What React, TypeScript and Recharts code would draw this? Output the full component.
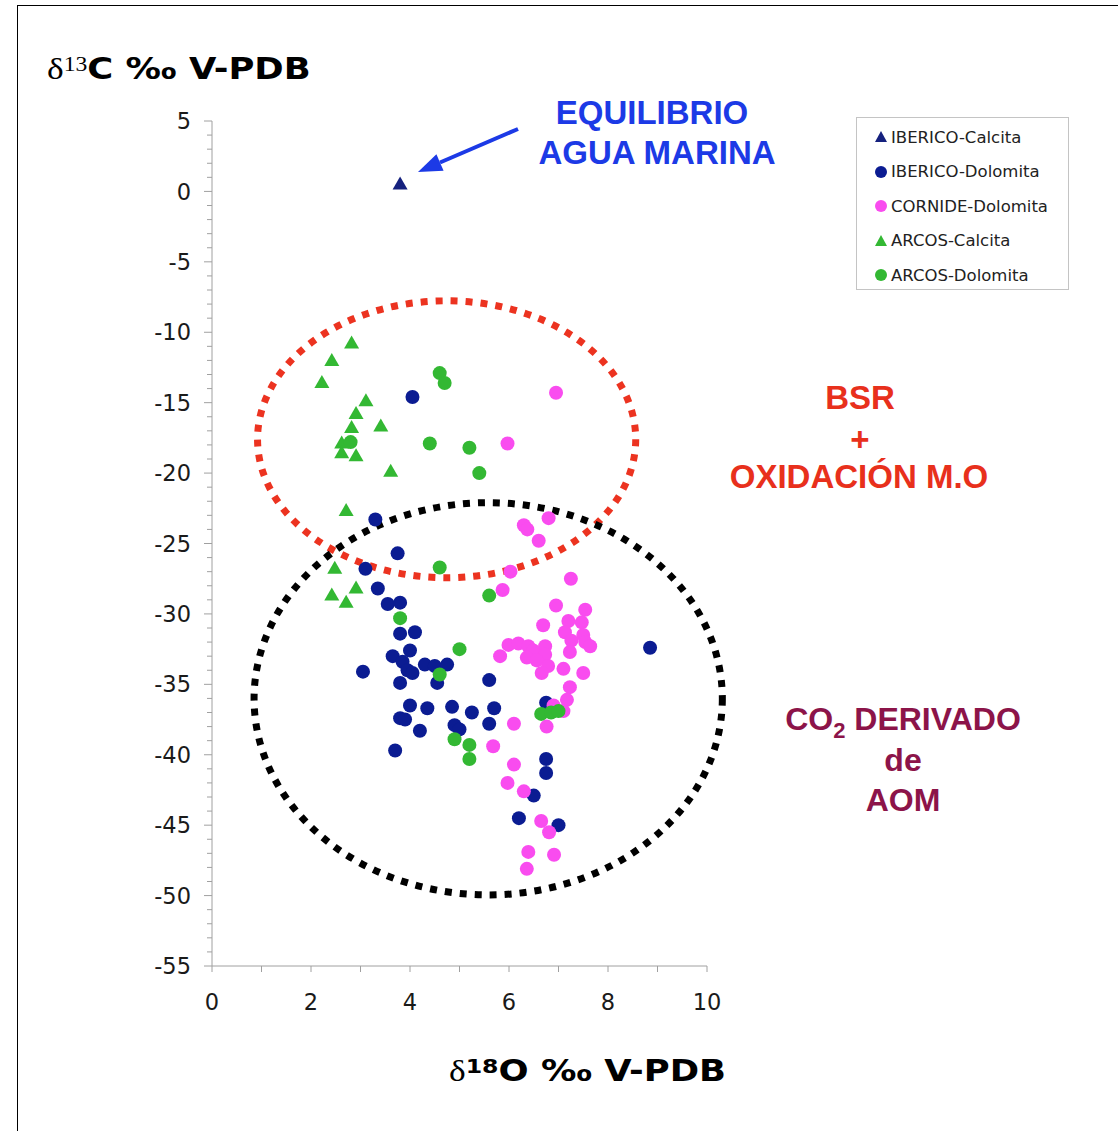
import React from 'react';
import { ScatterChart, Scatter, XAxis, YAxis, ReferenceArea } from 'recharts';

// δ18O (x) / δ13C (y)
const ibericoCalcita = [{ x: 3.8, y: 0.5 }];

const ibericoDolomita = [
  { x: 4.05, y: -14.6 }, { x: 3.3, y: -23.3 }, { x: 3.75, y: -25.7 }, { x: 3.1, y: -26.8 },
  { x: 3.35, y: -28.2 }, { x: 3.55, y: -29.3 }, { x: 3.8, y: -29.2 }, { x: 3.8, y: -31.4 },
  { x: 4.1, y: -31.3 }, { x: 4.0, y: -32.6 }, { x: 3.65, y: -33.0 }, { x: 3.85, y: -33.4 },
  { x: 3.95, y: -34.0 }, { x: 4.05, y: -34.2 }, { x: 3.05, y: -34.1 }, { x: 4.3, y: -33.6 },
  { x: 4.5, y: -33.7 }, { x: 4.75, y: -33.6 }, { x: 4.55, y: -34.9 }, { x: 3.8, y: -34.9 },
  { x: 5.6, y: -34.7 }, { x: 4.0, y: -36.5 }, { x: 4.35, y: -36.7 }, { x: 4.85, y: -36.6 },
  { x: 5.25, y: -37.0 }, { x: 5.7, y: -36.7 }, { x: 3.8, y: -37.4 }, { x: 3.9, y: -37.5 },
  { x: 4.9, y: -37.9 }, { x: 5.0, y: -38.2 }, { x: 5.6, y: -37.8 }, { x: 4.2, y: -38.3 },
  { x: 3.7, y: -39.7 }, { x: 8.85, y: -32.4 }, { x: 6.75, y: -36.3 }, { x: 6.75, y: -40.3 },
  { x: 6.75, y: -41.3 }, { x: 6.5, y: -42.9 }, { x: 6.2, y: -44.5 }, { x: 7.0, y: -45.0 },
];

const cornideDolomita = [
  { x: 6.95, y: -14.3 }, { x: 5.97, y: -17.9 }, { x: 6.8, y: -23.2 }, { x: 6.3, y: -23.7 },
  { x: 6.37, y: -24.0 }, { x: 6.6, y: -24.8 }, { x: 6.03, y: -27.0 }, { x: 5.87, y: -28.3 },
  { x: 7.25, y: -27.5 }, { x: 6.95, y: -29.4 }, { x: 7.54, y: -29.7 }, { x: 6.69, y: -30.8 },
  { x: 7.2, y: -30.5 }, { x: 7.47, y: -30.6 }, { x: 7.13, y: -31.3 }, { x: 7.26, y: -31.9 },
  { x: 7.5, y: -31.5 }, { x: 7.54, y: -32.0 }, { x: 7.64, y: -32.3 }, { x: 7.23, y: -32.7 },
  { x: 5.99, y: -32.2 }, { x: 6.19, y: -32.1 }, { x: 6.39, y: -32.3 }, { x: 6.49, y: -32.6 },
  { x: 5.82, y: -33.0 }, { x: 6.36, y: -33.1 }, { x: 6.73, y: -32.3 }, { x: 6.73, y: -32.9 },
  { x: 6.56, y: -33.3 }, { x: 6.79, y: -33.7 }, { x: 6.66, y: -34.2 }, { x: 7.1, y: -33.9 },
  { x: 7.5, y: -34.2 }, { x: 7.23, y: -35.2 }, { x: 7.17, y: -36.1 }, { x: 6.9, y: -36.5 },
  { x: 7.1, y: -36.9 }, { x: 6.1, y: -37.8 }, { x: 6.76, y: -38.0 }, { x: 5.68, y: -39.4 },
  { x: 6.1, y: -40.7 }, { x: 5.97, y: -42.0 }, { x: 6.3, y: -42.6 }, { x: 6.65, y: -44.7 },
  { x: 6.81, y: -45.5 }, { x: 6.39, y: -46.9 }, { x: 6.91, y: -47.1 }, { x: 6.36, y: -48.1 },
];

const arcosCalcita = [
  { x: 2.82, y: -10.8 }, { x: 2.42, y: -12.05 }, { x: 2.22, y: -13.6 }, { x: 3.11, y: -14.9 },
  { x: 2.91, y: -15.8 }, { x: 2.82, y: -16.8 }, { x: 3.41, y: -16.7 }, { x: 2.62, y: -17.9 },
  { x: 2.62, y: -18.6 }, { x: 2.91, y: -18.8 }, { x: 3.61, y: -19.9 }, { x: 2.71, y: -22.7 },
  { x: 2.48, y: -26.8 }, { x: 2.91, y: -28.2 }, { x: 2.42, y: -28.7 }, { x: 2.71, y: -29.2 },
];

const arcosDolomita = [
  { x: 4.6, y: -12.9 }, { x: 4.7, y: -13.6 }, { x: 2.8, y: -17.8 }, { x: 4.4, y: -17.9 },
  { x: 5.2, y: -18.2 }, { x: 5.4, y: -20.0 }, { x: 4.6, y: -26.7 }, { x: 5.6, y: -28.7 },
  { x: 3.8, y: -30.3 }, { x: 5.0, y: -32.5 }, { x: 4.6, y: -34.3 }, { x: 4.9, y: -38.9 },
  { x: 5.2, y: -39.3 }, { x: 5.2, y: -40.3 }, { x: 6.65, y: -37.1 }, { x: 6.85, y: -37.0 },
  { x: 7.0, y: -36.9 },
];

// dotted ellipses: [x1, x2, y1, y2]
const redZone = [0.92, 8.56, -27.43, -7.77];
const blackZone = [0.85, 10.31, -49.95, -22.1];

const xTicks = Array.from({ length: 11 }, (_, i) => i);
const yTicks = Array.from({ length: 61 }, (_, i) => 5 - i);

const NAVY = '#0b1c92';
const MAGENTA = '#f94cef';
const GREEN = '#33b833';

const series = [
  { name: 'IBERICO-Calcita', data: ibericoCalcita, color: '#15217e', tri: true },
  { name: 'IBERICO-Dolomita', data: ibericoDolomita, color: NAVY, tri: false },
  { name: 'CORNIDE-Dolomita', data: cornideDolomita, color: MAGENTA, tri: false },
  { name: 'ARCOS-Calcita', data: arcosCalcita, color: GREEN, tri: true },
  { name: 'ARCOS-Dolomita', data: arcosDolomita, color: GREEN, tri: false },
];

const tickFont = { fontFamily: 'DejaVu Sans', fontSize: 22.5, fill: '#1a1a1a' };

const YTick = (props: any) => {
  const { x, y, payload } = props;
  const v = payload.value;
  const major = v % 5 === 0;
  return (
    <g>
      <line x1={x - (major ? 8 : 5)} x2={x} y1={y} y2={y} stroke="#a0a0a0" />
      {major && (
        <text x={x - 21} y={y} dy="0.36em" textAnchor="end" {...tickFont}>
          {v}
        </text>
      )}
    </g>
  );
};

const XTick = (props: any) => {
  const { x, y, payload } = props;
  const v = payload.value;
  const major = v % 2 === 0;
  return (
    <g>
      <line x1={x} x2={x} y1={y} y2={y + 6} stroke="#a0a0a0" />
      {major && (
        <text x={x} y={y + 36} dy="0.36em" textAnchor="middle" {...tickFont}>
          {v}
        </text>
      )}
    </g>
  );
};

const circle = (fill: string) => (p: any) => <circle cx={p.cx} cy={p.cy} r={7} fill={fill} />;
const triangle = (fill: string) => (p: any) => (
  <polygon points={`${p.cx},${p.cy - 8} ${p.cx - 7.5},${p.cy + 5} ${p.cx + 7.5},${p.cy + 5}`} fill={fill} />
);

const ellipse = (stroke: string) => (p: any) => (
  <ellipse
    cx={p.x + p.width / 2}
    cy={p.y + p.height / 2}
    rx={Math.abs(p.width) / 2}
    ry={Math.abs(p.height) / 2}
    fill="none"
    stroke={stroke}
    strokeWidth={7}
    strokeDasharray="7 8"
  />
);

const bold = { fontFamily: '"Liberation Sans", Arial, sans-serif', fontWeight: 700 };

const Line = ({ cx, cy, color, size = 33, children }: any) => (
  <div
    style={{
      position: 'absolute', left: cx - 250, width: 500, top: cy - 20, lineHeight: '40px',
      textAlign: 'center', color, fontSize: size, ...bold,
    }}
  >
    {children}
  </div>
);

const titleStyle: React.CSSProperties = {
  position: 'absolute', fontSize: 30, lineHeight: '40px', color: '#000', whiteSpace: 'nowrap',
  transform: 'scaleX(1.18)', transformOrigin: 'left center',
};

export default function App() {
  return (
    <div style={{ position: 'absolute', left: 0, top: 0, width: 1118, height: 1131, overflow: 'hidden', background: '#fff' }}>
      <div style={{ position: 'absolute', left: 17, top: 5, width: 1200, height: 1200, border: '1.5px solid #000' }} />

      <ScatterChart width={1118} height={1131} margin={{ top: 121, right: 411, bottom: 115, left: 152 }}>
        <XAxis
          type="number" dataKey="x" domain={[0, 10]} ticks={xTicks} interval={0}
          height={50} tickSize={0} tickMargin={0} tickLine={false}
          axisLine={{ stroke: '#a0a0a0' }} tick={<XTick />}
        />
        <YAxis
          type="number" dataKey="y" domain={[-55, 5]} ticks={yTicks} interval={0}
          width={60} tickSize={0} tickMargin={0} tickLine={false}
          axisLine={{ stroke: '#a0a0a0' }} tick={<YTick />}
        />
        {series.map((s) => (
          <Scatter
            key={s.name} name={s.name} data={s.data} isAnimationActive={false}
            shape={s.tri ? triangle(s.color) : circle(s.color)}
          />
        ))}
        <ReferenceArea
          x1={redZone[0]} x2={redZone[1]} y1={redZone[2]} y2={redZone[3]}
          ifOverflow="visible" shape={ellipse('#ec3320')}
        />
        <ReferenceArea
          x1={blackZone[0]} x2={blackZone[1]} y1={blackZone[2]} y2={blackZone[3]}
          ifOverflow="visible" shape={ellipse('#000')}
        />
      </ScatterChart>

      {/* axis titles */}
      <div style={{ ...titleStyle, left: 47, top: 44 }}>
        <span style={{ fontFamily: '"Liberation Serif", serif' }}>δ</span>
        <span style={{ fontFamily: '"Liberation Serif", serif', fontSize: 20, verticalAlign: '8px' }}>13</span>
        <span style={{ fontFamily: '"DejaVu Sans", sans-serif', fontWeight: 700 }}>C ‰ V-PDB</span>
      </div>
      <div style={{ ...titleStyle, left: 449, top: 1046 }}>
        <span style={{ fontFamily: '"Liberation Serif", serif' }}>δ</span>
        <span style={{ fontFamily: '"DejaVu Sans", sans-serif', fontWeight: 700, fontSize: 20, verticalAlign: '8px' }}>18</span>
        <span style={{ fontFamily: '"DejaVu Sans", sans-serif', fontWeight: 700 }}>O ‰ V-PDB</span>
      </div>

      {/* annotations */}
      <Line cx={652} cy={113} color="#1c3ae6">EQUILIBRIO</Line>
      <Line cx={657} cy={153} color="#1c3ae6">AGUA MARINA</Line>
      <svg width={1118} height={1131} style={{ position: 'absolute', left: 0, top: 0, pointerEvents: 'none' }}>
        <line x1={518} y1={129} x2={440} y2={162.5} stroke="#1c3ae6" strokeWidth={4} />
        <polygon points="418,172 443.6,170.8 436.4,154.2" fill="#1c3ae6" />
      </svg>

      <Line cx={860} cy={398} color="#e8301c">BSR</Line>
      <Line cx={860} cy={440} color="#e8301c">+</Line>
      <Line cx={859} cy={477} color="#e8301c">OXIDACIÓN M.O</Line>

      <Line cx={903} cy={719} color="#8c1449" size={32}>
        CO<span style={{ fontSize: 22, verticalAlign: '-8px' }}>2</span> DERIVADO
      </Line>
      <Line cx={903} cy={760} color="#8c1449" size={32}>de</Line>
      <Line cx={903} cy={800} color="#8c1449" size={32}>AOM</Line>

      {/* legend */}
      <div style={{ position: 'absolute', left: 856, top: 117, width: 211, height: 171, border: '1px solid #c4c4c4', background: '#fff' }}>
        {series.map((s, i) => (
          <div
            key={s.name}
            style={{
              position: 'absolute', left: 17, top: 19 + i * 34.5 - 11, height: 22, display: 'flex', alignItems: 'center',
              fontFamily: '"DejaVu Sans", sans-serif', fontSize: 16.5, color: '#222', whiteSpace: 'nowrap',
            }}
          >
            <svg width={14} height={14} style={{ marginRight: 3 }}>
              {s.tri ? <polygon points="7,1 1,12 13,12" fill={s.color} /> : <circle cx={7} cy={7} r={6} fill={s.color} />}
            </svg>
            {s.name}
          </div>
        ))}
      </div>
    </div>
  );
}
